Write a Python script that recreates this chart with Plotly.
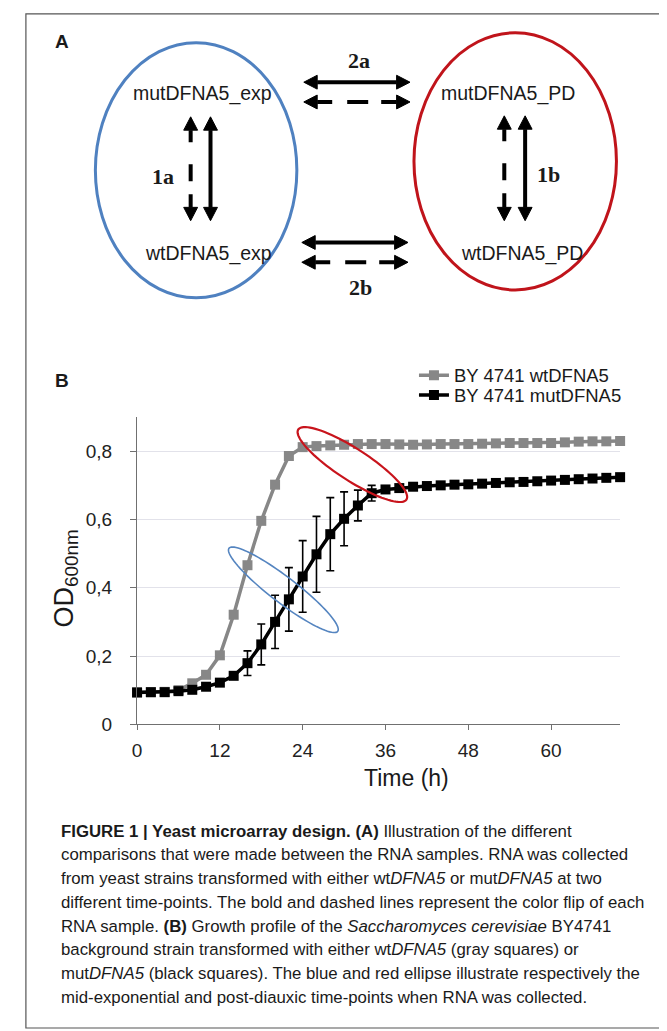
import numpy as np
import plotly.graph_objects as go

W, H = 667, 1031

# ---------------- data ----------------
time_h = [0, 2, 4, 6, 8, 10, 12, 14, 16, 18, 20, 22, 24, 26, 28, 30, 32, 34,
          36, 38, 40, 42, 44, 46, 48, 50, 52, 54, 56, 58, 60, 62, 64, 66, 68, 70]
wt_od = [0.094, 0.094, 0.095, 0.100, 0.120, 0.145, 0.202, 0.321, 0.466, 0.596,
         0.702, 0.786, 0.812, 0.815, 0.817, 0.819, 0.821, 0.821, 0.821, 0.820,
         0.819, 0.820, 0.821, 0.821, 0.821, 0.822, 0.823, 0.824, 0.824, 0.824,
         0.824, 0.826, 0.828, 0.829, 0.829, 0.830]
mut_od = [0.093, 0.094, 0.094, 0.097, 0.101, 0.110, 0.122, 0.142, 0.179, 0.234,
          0.300, 0.366, 0.433, 0.498, 0.557, 0.602, 0.641, 0.677, 0.688, 0.692,
          0.696, 0.698, 0.700, 0.702, 0.703, 0.705, 0.707, 0.709, 0.710, 0.712,
          0.714, 0.716, 0.718, 0.720, 0.722, 0.724]
mut_err = [0, 0, 0, 0, 0, 0, 0, 0, 0.036, 0.060, 0.078, 0.093, 0.105, 0.111,
           0.107, 0.079, 0.045, 0.023, 0.008, 0, 0, 0, 0, 0, 0, 0, 0, 0, 0, 0,
           0, 0, 0, 0, 0, 0]
series_names = ["BY 4741 wtDFNA5", "BY 4741 mutDFNA5"]
x_tick_vals = [0, 12, 24, 36, 48, 60]
y_tick_vals = [0, 0.2, 0.4, 0.6, 0.8]
y_tick_text = ["0", "0,2", "0,4", "0,6", "0,8"]
sample_labels = ["mutDFNA5_exp", "wtDFNA5_exp", "mutDFNA5_PD", "wtDFNA5_PD"]
comparison_labels = ["2a", "2b", "1a", "1b"]
caption_lines = [
    "<b>FIGURE 1 | Yeast microarray design. (A)</b> Illustration of the different",
    "comparisons that were made between the RNA samples. RNA was collected",
    "from yeast strains transformed with either wt<i>DFNA5</i> or mut<i>DFNA5</i> at two",
    "different time-points. The bold and dashed lines represent the color flip of each",
    "RNA sample. <b>(B)</b> Growth profile of the <i>Saccharomyces cerevisiae</i> BY4741",
    "background strain transformed with either wt<i>DFNA5</i> (gray squares) or",
    "mut<i>DFNA5</i> (black squares). The blue and red ellipse illustrate respectively the",
    "mid-exponential and post-diauxic time-points when RNA was collected.",
]

# ---------------- geometry helpers ----------------
def PX(px):
    return px / W

def PY(py):
    return 1 - py / H

AX_L, AX_R, AX_B, AX_T = 125, 611.7, 724, 413.5
X_MAX, Y_MAX = 70, 0.9
ppx = (AX_R - AX_L) / X_MAX
ppy = (AX_B - AX_T) / Y_MAX

FONT = "Liberation Sans"
SERIF = "Liberation Serif"
TXT = "#1a1a1a"

fig = go.Figure()
fig.add_trace(go.Scatter(
    x=time_h, y=wt_od, mode="lines+markers", name=series_names[0],
    line=dict(color="#878787", width=3.5),
    marker=dict(symbol="square", size=10, color="#878787"),
    cliponaxis=False, legend="legend"))
fig.add_trace(go.Scatter(
    x=time_h, y=mut_od, mode="lines+markers", name=series_names[1],
    line=dict(color="#000000", width=3.5),
    marker=dict(symbol="square", size=10, color="#000000"),
    error_y=dict(type="data", array=mut_err, visible=True, color="#000000",
                 thickness=1.6, width=4),
    cliponaxis=False, legend="legend2"))

shapes = []
annotations = []

# outer frame
shapes.append(dict(type="rect", xref="paper", yref="paper",
                   x0=PX(13), x1=PX(662), y0=PY(1031), y1=PY(6),
                   line=dict(color="#555555", width=1.2)))

# ---------- panel A ----------
shapes.append(dict(type="circle", xref="paper", yref="paper",
                   x0=PX(83), x1=PX(286), y0=PY(293), y1=PY(35),
                   line=dict(color="#4f81c0", width=3)))
shapes.append(dict(type="circle", xref="paper", yref="paper",
                   x0=PX(404), x1=PX(608), y0=PY(285), y1=PY(25),
                   line=dict(color="#c0141b", width=3)))


def dbl_arrow(x1, y1, x2, y2, dash="solid"):
    p1 = np.array([x1, y1], float)
    p2 = np.array([x2, y2], float)
    u = (p2 - p1) / np.linalg.norm(p2 - p1)
    n = np.array([-u[1], u[0]])
    hl, hw = 13.5, 7.0
    a = p1 + u * hl
    b = p2 - u * hl
    shapes.append(dict(type="line", xref="paper", yref="paper",
                       x0=PX(a[0]), y0=PY(a[1]), x1=PX(b[0]), y1=PY(b[1]),
                       line=dict(color="#000000", width=4, dash=dash)))
    for tip, base in ((p1, p1 + u * hl), (p2, p2 - u * hl)):
        c1 = base + n * hw
        c2 = base - n * hw
        path = "M {:.5f},{:.5f} L {:.5f},{:.5f} L {:.5f},{:.5f} Z".format(
            PX(tip[0]), PY(tip[1]), PX(c1[0]), PY(c1[1]), PX(c2[0]), PY(c2[1]))
        shapes.append(dict(type="path", xref="paper", yref="paper", path=path,
                           fillcolor="#000000", line=dict(color="#000000", width=1)))


HDASH = "15px,15px,21px,13px,22px"
VDASH = "12px,22px,17px,13px,20px"
dbl_arrow(293, 75, 400, 75)
dbl_arrow(293, 95, 400, 95, HDASH)
dbl_arrow(291, 237, 398, 237)
dbl_arrow(291, 257, 398, 257, HDASH)
dbl_arrow(179, 110, 179, 215, VDASH)
dbl_arrow(199, 110, 199, 215)
dbl_arrow(495, 109, 495, 215, VDASH)
dbl_arrow(516, 109, 516, 215)

for txt, (x, y) in zip(sample_labels, [(191, 86), (197, 248), (499, 86), (513, 248)]):
    annotations.append(dict(text=txt, x=PX(x), y=PY(y), xref="paper", yref="paper",
                            showarrow=False, xanchor="center", yanchor="middle",
                            font=dict(family=FONT, size=19.5, color=TXT)))
for txt, (x, y) in zip(comparison_labels, [(349, 53), (350, 283), (151, 170), (540, 168)]):
    annotations.append(dict(text="<b>" + txt + "</b>", x=PX(x), y=PY(y), xref="paper",
                            yref="paper", showarrow=False, xanchor="center",
                            yanchor="middle",
                            font=dict(family=SERIF, size=22, color=TXT)))
for txt, (x, y) in zip(["A", "B"], [(49, 34), (49, 377)]):
    annotations.append(dict(text="<b>" + txt + "</b>", x=PX(x), y=PY(y), xref="paper",
                            yref="paper", showarrow=False, xanchor="center",
                            yanchor="middle",
                            font=dict(family=FONT, size=19, color=TXT)))

# ---------- panel B ellipses (annotation marks) ----------
def ellipse_path(cx, cy, a, b, ang_deg):
    th = np.linspace(0, 2 * np.pi, 90)
    phi = np.radians(ang_deg)
    dx = a * np.cos(th) * np.cos(phi) - b * np.sin(th) * np.sin(phi)
    dy = a * np.cos(th) * np.sin(phi) + b * np.sin(th) * np.cos(phi)
    xs = cx + dx / ppx
    ys = cy - dy / ppy
    pts = ["{:.4f},{:.5f}".format(x, y) for x, y in zip(xs, ys)]
    return "M " + " L ".join(pts) + " Z"


shapes.append(dict(type="path", xref="x", yref="y",
                   path=ellipse_path(21.2, 0.394, 69, 13, 37.5),
                   line=dict(color="#5585c0", width=1.6)))
shapes.append(dict(type="path", xref="x", yref="y",
                   path=ellipse_path(31.2, 0.761, 65, 16, 33),
                   line=dict(color="#c8141c", width=2.2)))

# axis titles
annotations.append(dict(text="Time (h)", x=PX(396), y=PY(778), xref="paper", yref="paper",
                        showarrow=False, xanchor="center", yanchor="middle",
                        font=dict(family=FONT, size=23, color=TXT)))
annotations.append(dict(text="OD<sub>600nm</sub>", x=PX(53), y=PY(577), xref="paper",
                        yref="paper", showarrow=False, xanchor="center",
                        yanchor="middle", textangle=-90,
                        font=dict(family=FONT, size=27, color=TXT)))

# caption
for i, line in enumerate(caption_lines):
    annotations.append(dict(text=line, x=PX(46), y=PY(832 + 24 * i), xref="paper",
                            yref="paper", showarrow=False, xanchor="left",
                            yanchor="middle", align="left",
                            font=dict(family=FONT, size=16.8, color=TXT)))

fig.update_layout(
    width=W, height=H, autosize=False,
    margin=dict(l=0, r=0, t=0, b=0),
    paper_bgcolor="white", plot_bgcolor="white",
    showlegend=True,
    xaxis=dict(domain=[PX(AX_L), PX(AX_R)], range=[0, X_MAX], tickvals=x_tick_vals,
               showline=True, linecolor="#707070", linewidth=1.3, ticks="outside",
               ticklen=5, tickcolor="#707070", tickwidth=1.2, showgrid=False,
               zeroline=False, ticklabelstandoff=4,
               tickfont=dict(family=FONT, size=19, color="#222222")),
    yaxis=dict(domain=[PY(AX_B), PY(AX_T)], range=[0, Y_MAX], tickvals=y_tick_vals,
               ticktext=y_tick_text, showline=True, linecolor="#707070", linewidth=1.3,
               ticks="outside", ticklen=6, tickcolor="#707070", tickwidth=1.2,
               showgrid=True, gridcolor="#e2e2ea", gridwidth=1.2, zeroline=False,
               ticklabelstandoff=14,
               tickfont=dict(family=FONT, size=19, color="#222222")),
    legend=dict(x=PX(404), y=PY(371.7), xanchor="left", yanchor="middle",
                bgcolor="rgba(0,0,0,0)", font=dict(family=FONT, size=18.5, color=TXT)),
    legend2=dict(x=PX(404), y=PY(391.7), xanchor="left", yanchor="middle",
                 bgcolor="rgba(0,0,0,0)", font=dict(family=FONT, size=18.5, color=TXT)),
    shapes=shapes,
    annotations=annotations,
)

fig.write_html("out.html")
